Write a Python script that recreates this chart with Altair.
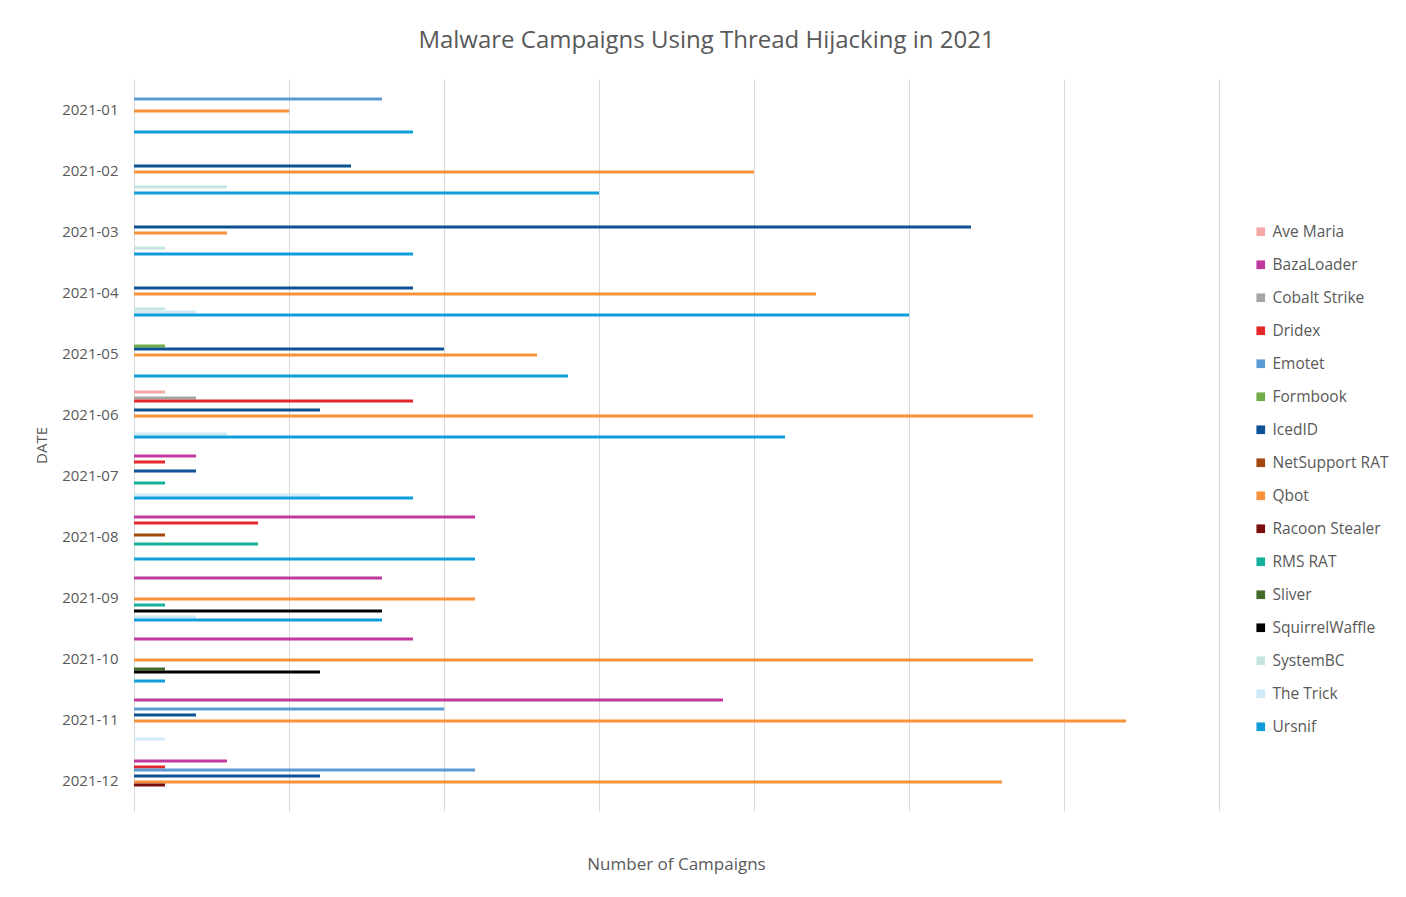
import altair as alt
import pandas as pd

months = ["2021-01", "2021-02", "2021-03", "2021-04", "2021-05", "2021-06",
          "2021-07", "2021-08", "2021-09", "2021-10", "2021-11", "2021-12"]

series = ["Ave Maria", "BazaLoader", "Cobalt Strike", "Dridex", "Emotet", "Formbook",
          "IcedID", "NetSupport RAT", "Qbot", "Racoon Stealer", "RMS RAT", "Sliver",
          "SquirrelWaffle", "SystemBC", "The Trick", "Ursnif"]

colors = ["#F4A7A3", "#C1399D", "#A5A5A5", "#E3262A", "#5B9BD5", "#70AD47",
          "#0D5394", "#A0480E", "#F7923A", "#7A0E0E", "#14B09A", "#436B2A",
          "#000000", "#C5E5E0", "#CFE9F7", "#0F9DDC"]

ave_maria      = [0, 0, 0, 0, 0, 1, 0, 0, 0, 0, 0, 0]
bazaloader     = [0, 0, 0, 0, 0, 0, 2, 11, 8, 9, 19, 3]
cobalt_strike  = [0, 0, 0, 0, 0, 2, 0, 0, 0, 0, 0, 0]
dridex         = [0, 0, 0, 0, 0, 9, 1, 4, 0, 0, 0, 1]
emotet         = [8, 0, 0, 0, 0, 0, 0, 0, 0, 0, 10, 11]
formbook       = [0, 0, 0, 0, 1, 0, 0, 0, 0, 0, 0, 0]
icedid         = [0, 7, 27, 9, 10, 6, 2, 0, 0, 0, 2, 6]
netsupport_rat = [0, 0, 0, 0, 0, 0, 0, 1, 0, 0, 0, 0]
qbot           = [5, 20, 3, 22, 13, 29, 0, 0, 11, 29, 32, 28]
racoon_stealer = [0, 0, 0, 0, 0, 0, 0, 0, 0, 0, 0, 1]
rms_rat        = [0, 0, 0, 0, 0, 0, 1, 4, 1, 0, 0, 0]
sliver         = [0, 0, 0, 0, 0, 0, 0, 0, 0, 1, 0, 0]
squirrelwaffle = [0, 0, 0, 0, 0, 0, 0, 0, 8, 6, 0, 0]
systembc       = [0, 3, 1, 1, 0, 0, 0, 0, 0, 0, 0, 0]
the_trick      = [0, 0, 0, 2, 0, 3, 6, 0, 2, 0, 1, 0]
ursnif         = [9, 15, 9, 25, 14, 21, 9, 11, 8, 1, 0, 0]

values = [ave_maria, bazaloader, cobalt_strike, dridex, emotet, formbook, icedid,
          netsupport_rat, qbot, racoon_stealer, rms_rat, sliver, squirrelwaffle,
          systembc, the_trick, ursnif]

rows = []
for name, vals in zip(series, values):
    for m, v in zip(months, vals):
        if v > 0:
            rows.append({"month": m, "series": name, "count": v})
df = pd.DataFrame(rows)

FONT = "Open Sans"
GREY = "#595959"

chart = alt.Chart(df).mark_bar().encode(
    y=alt.Y("month:N", sort=months,
            scale=alt.Scale(domain=months, paddingInner=0.213, paddingOuter=0.1065),
            axis=alt.Axis(title="DATE", labelFontSize=15, labelColor=GREY, labelFont=FONT,
                          labelPadding=16, ticks=False, domain=False, grid=False,
                          titleFontSize=15, titleColor=GREY, titleFont=FONT,
                          titleFontWeight="normal", titleAngle=-90, titleX=-93, titleY=366,
                          titleAlign="center", titleBaseline="middle")),
    x=alt.X("count:Q", scale=alt.Scale(domain=[0, 35], nice=False),
            axis=alt.Axis(title="Number of Campaigns", values=list(range(0, 36, 5)),
                          labels=False, ticks=False, domain=False, grid=True,
                          gridColor="#d9d9d9", gridWidth=1,
                          titleFontSize=17, titleColor=GREY, titleFont=FONT,
                          titleFontWeight="normal", titleX=542, titleY=53,
                          titleAlign="center", titleBaseline="middle")),
    yOffset=alt.YOffset("series:N",
                        scale=alt.Scale(domain=series, paddingInner=0, paddingOuter=0)),
    color=alt.Color("series:N", scale=alt.Scale(domain=series, range=colors),
                    legend=alt.Legend(title=None, orient="none", legendX=1119, legendY=145,
                                      labelFontSize=15.5, labelColor=GREY, labelFont=FONT,
                                      symbolType="square", symbolSize=75,
                                      symbolStrokeWidth=0, rowPadding=16, padding=0,
                                      labelOffset=4)),
).properties(
    width=1085,
    height=732,
    title=alt.TitleParams("Malware Campaigns Using Thread Hijacking in 2021",
                          fontSize=24, color=GREY, font=FONT, fontWeight="normal",
                          anchor="middle", dx=30, offset=26),
    autosize=alt.AutoSizeParams(type="none"),
    padding={"left": 126, "top": 71, "right": 179, "bottom": 74},
).configure(font=FONT).configure_view(strokeWidth=0, stroke=None)

chart.save("out.html", embed_options={"renderer": "svg", "actions": False})
